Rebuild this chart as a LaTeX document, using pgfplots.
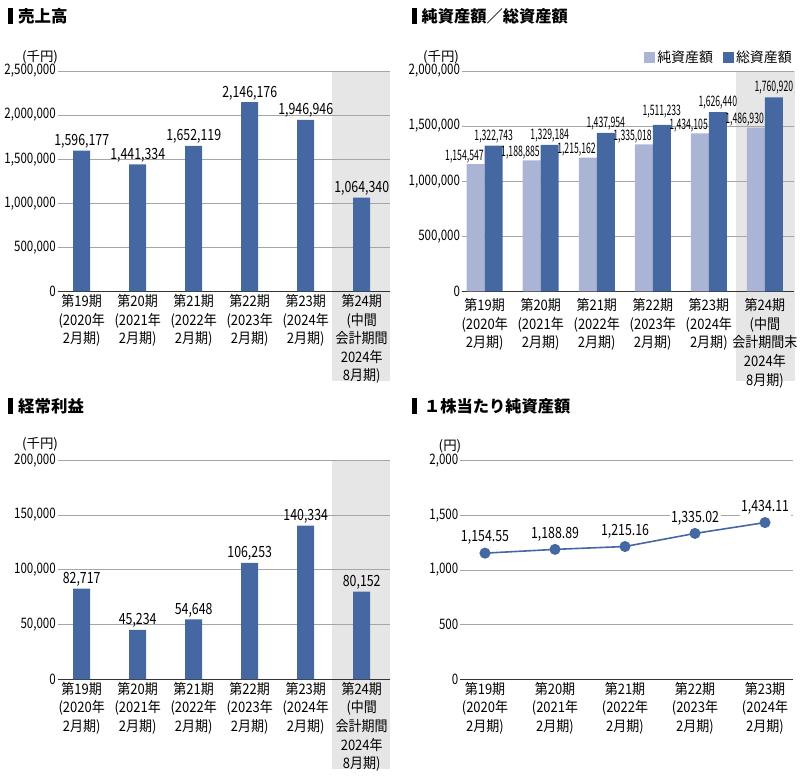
\documentclass[border=0pt]{standalone}
\usepackage{pgfplots}
\pgfplotsset{compat=1.18}
\usepackage{fontspec}
\setmainfont{Noto Sans CJK JP}
\newfontfamily\jp{Noto Sans CJK JP}
\newfontfamily\jpc[FakeStretch=0.9]{Noto Sans CJK JP}
\newfontfamily\cond[FakeStretch=0.8]{Noto Sans CJK JP}
\newfontfamily\condB[FakeStretch=0.6]{Noto Sans CJK JP}
\definecolor{dblue}{HTML}{4568A3}
\definecolor{lblue}{HTML}{AAB4D4}
\definecolor{bggray}{HTML}{E6E6E6}
\definecolor{gridgray}{HTML}{A6A6A6}
\pgfplotsset{
  base/.style={
    scale only axis, clip=false, anchor=south west,
    axis x line*=bottom, axis y line*=left,
    y axis line style={draw=none},
    x axis line style={draw=black!80, line width=0.8bp, -},
    tick style={draw=none},
    ymajorgrids, grid style={gridgray, line width=0.6bp},
    scaled y ticks=false,
    ymin=0,
    yticklabel style={font=\cond\fontsize{14.5}{16}\selectfont, inner sep=1.5bp,
      /pgf/number format/fixed, /pgf/number format/1000 sep={,},
      /pgf/number format/assume math mode=true},
    xticklabel style={font=\jpc\fontsize{14.5}{18.7}\selectfont, align=center, inner sep=2.5bp},
  },
  vals/.style={every node near coord/.append style={font=\cond\fontsize{15.5}{18}\selectfont, inner sep=2bp, text=black,
      /pgf/number format/fixed, /pgf/number format/1000 sep={,},
      /pgf/number format/assume math mode=true}},
}
\pgfplotstableread{
x y dy
0 1322743 1
1 1329184 1
2 1437954 1
3 1511233 5
4 1626440 1
5 1760920 1
}\totalassets
\begin{document}
\begin{tikzpicture}[x=1bp,y=1bp]
\path[use as bounding box] (0,0) rectangle (802,777);
% background shading for interim period
\fill[bggray] (332,396) rectangle (390,706);
\fill[bggray] (736,396) rectangle (794.5,706);
\fill[bggray] (332,8) rectangle (390,317);
% titles
\fill[black] (8,753) rectangle (13,769);
\node[anchor=west, inner sep=0, font=\jp\bfseries\fontsize{16.5}{18}\selectfont] at (18,761) {売上高};
\fill[black] (411.5,753) rectangle (416.5,769);
\node[anchor=west, inner sep=0, font=\jp\bfseries\fontsize{16.3}{18}\selectfont] at (421.5,761) {純資産額／総資産額};
\fill[black] (8,363) rectangle (13,379);
\node[anchor=west, inner sep=0, font=\jp\bfseries\fontsize{16.5}{18}\selectfont] at (18,371) {経常利益};
\fill[black] (411.5,363) rectangle (416.5,379);
\node[anchor=west, inner sep=0, font=\jp\bfseries\fontsize{16.3}{18}\selectfont] at (424,371) {１株当たり純資産額};
% units
\node[inner sep=0, font=\jp\fontsize{13.5}{15}\selectfont] at (40,720) {(千円)};
\node[inner sep=0, font=\jp\fontsize{13.5}{15}\selectfont] at (441,720) {(千円)};
\node[inner sep=0, font=\jp\fontsize{13.5}{15}\selectfont] at (40,333) {(千円)};
\node[inner sep=0, font=\jp\fontsize{13.5}{15}\selectfont] at (450,331) {(円)};

% Panel 1: 売上高
\begin{axis}[base, at={(57.5bp,485.5bp)}, width=332.5bp, height=220.5bp,
  xmin=-0.432, xmax=5.505, ymax=2500000,
  ytick={0,500000,1000000,1500000,2000000,2500000},
  xtick={0,1,2,3,4,5},
  xticklabels={{第19期\\(2020年\\2月期)},{第20期\\(2021年\\2月期)},{第21期\\(2022年\\2月期)},{第22期\\(2023年\\2月期)},{第23期\\(2024年\\2月期)},{第24期\\(中間\\会計期間\\2024年\\8月期)}}]
\addplot[ybar, bar width=17bp, fill=dblue, draw=none, nodes near coords, vals]
  coordinates {(0,1596177) (1,1441334) (2,1652119) (3,2146176) (4,1946946) (5,1064340)};
\end{axis}

% Panel 2: 純資産額／総資産額
\begin{axis}[base, at={(461.7bp,485.5bp)}, width=332.3bp, height=220.5bp,
  xmin=-0.41, xmax=5.52, ymax=2000000,
  ytick={0,500000,1000000,1500000,2000000},
  xtick={0,1,2,3,4,5},
  xticklabels={{第19期\\(2020年\\2月期)},{第20期\\(2021年\\2月期)},{第21期\\(2022年\\2月期)},{第22期\\(2023年\\2月期)},{第23期\\(2024年\\2月期)},{第24期\\(中間\\会計期間末\\2024年\\8月期)}},
  ybar=0pt, bar width=18bp,
  legend style={at={(1,1.02)}, anchor=south east, draw=none, fill=none, inner sep=0pt,
    legend columns=2, font=\jp\fontsize{14}{16}\selectfont,
    /tikz/every even column/.append style={column sep=8bp}},
  legend image code/.code={\fill[#1] (0bp,-5.5bp) rectangle (11bp,5.5bp);}]
\addplot[fill=lblue, draw=none, nodes near coords, vals,
  every node near coord/.append style={font=\condB\fontsize{14.5}{16}\selectfont, anchor=south east, xshift=9bp, inner sep=0.8bp}]
  coordinates {(0,1154547) (1,1188885) (2,1215162) (3,1335018) (4,1434105) (5,1486930)};
\addplot[fill=dblue, draw=none, nodes near coords, vals,
  visualization depends on={\thisrow{dy} \as \dy},
  every node near coord/.append style={font=\condB\fontsize{14.5}{16}\selectfont, inner sep=1.5bp, yshift=\dy bp}]
  table[x=x, y=y] {\totalassets};
\legend{純資産額,総資産額}
\end{axis}

% Panel 3: 経常利益
\begin{axis}[base, at={(57.5bp,97.7bp)}, width=332.5bp, height=219bp,
  xmin=-0.432, xmax=5.505, ymax=200000,
  ytick={0,50000,100000,150000,200000},
  xtick={0,1,2,3,4,5},
  xticklabels={{第19期\\(2020年\\2月期)},{第20期\\(2021年\\2月期)},{第21期\\(2022年\\2月期)},{第22期\\(2023年\\2月期)},{第23期\\(2024年\\2月期)},{第24期\\(中間\\会計期間\\2024年\\8月期)}}]
\addplot[ybar, bar width=17bp, fill=dblue, draw=none, nodes near coords, vals]
  coordinates {(0,82717) (1,45234) (2,54648) (3,106253) (4,140334) (5,80152)};
\end{axis}

% Panel 4: 1株当たり純資産額
\begin{axis}[base, at={(460bp,97.6bp)}, width=333bp, height=218.7bp,
  xmin=-0.357, xmax=4.4, ymax=2000,
  ytick={0,500,1000,1500,2000},
  xtick={0,1,2,3,4},
  xticklabels={{第19期\\(2020年\\2月期)},{第20期\\(2021年\\2月期)},{第21期\\(2022年\\2月期)},{第22期\\(2023年\\2月期)},{第23期\\(2024年\\2月期)}}]
\addplot[dblue, line width=1.6bp, mark=*, mark size=4.7bp, mark options={fill=dblue, draw=none},
  nodes near coords, vals,
  every node near coord/.append style={fill=white, text=black, inner sep=1.5bp, yshift=6bp,
    /pgf/number format/fixed zerofill, /pgf/number format/precision=2}]
  coordinates {(0,1154.55) (1,1188.89) (2,1215.16) (3,1335.02) (4,1434.11)};
\end{axis}
\end{tikzpicture}
\end{document}
